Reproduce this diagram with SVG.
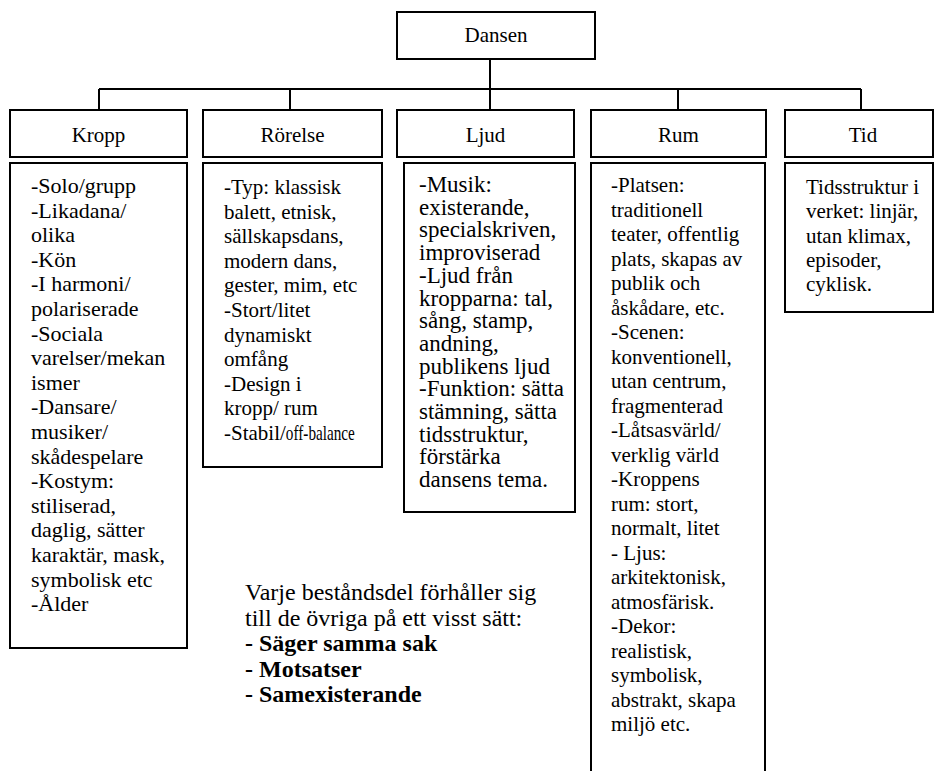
<svg xmlns="http://www.w3.org/2000/svg" width="934" height="771" viewBox="0 0 934 771">
<style>
.box{fill:#fff;stroke:#000;stroke-width:2}
.ln{stroke:#000;stroke-width:2;fill:none}
text{font-family:"Liberation Serif","Times New Roman",serif;font-size:21px;fill:#000}
.c{text-anchor:middle}
.k{font-size:22px}
.lj{font-size:23px}
.note{font-size:24px}
.b{font-weight:bold}
</style>
<rect width="934" height="771" fill="#fff"/>
<g id="connectors">
<path class="ln" d="M490 59V89M99 89H861M99 89V110M290 89V110M490 89V110M678 89V110M861 89V110"/>
</g>
<g id="dansen"><rect class="box" x="397" y="12" width="198" height="47"/><text class="c" x="496" y="42">Dansen</text></g>
<g id="kropp"><rect class="box" x="10" y="110" width="177" height="47"/><text class="c" x="98.5" y="142">Kropp</text></g>
<g id="rorelse"><rect class="box" x="203" y="110" width="179" height="47"/><text class="c" x="292.5" y="142">Rörelse</text></g>
<g id="ljud"><rect class="box" x="397" y="110" width="177" height="47"/><text class="c" x="485.5" y="142">Ljud</text></g>
<g id="rum"><rect class="box" x="591" y="110" width="175" height="47"/><text class="c" x="678.5" y="142">Rum</text></g>
<g id="tid"><rect class="box" x="785" y="110" width="148" height="47"/><text class="c" x="863" y="142">Tid</text></g>
<g id="kropp-detail"><rect class="box" x="10" y="163" width="177" height="485"/>
<text class="k" x="31" y="193"><tspan x="31">-Solo/grupp</tspan><tspan x="31" dy="24.6">-Likadana/</tspan><tspan x="31" dy="24.6">olika</tspan><tspan x="31" dy="24.6">-Kön</tspan><tspan x="31" dy="24.6">-I harmoni/</tspan><tspan x="31" dy="24.6">polariserade</tspan><tspan x="31" dy="24.6">-Sociala</tspan><tspan x="31" dy="24.6">varelser/mekan</tspan><tspan x="31" dy="24.6">ismer</tspan><tspan x="31" dy="24.6">-Dansare/</tspan><tspan x="31" dy="24.6">musiker/</tspan><tspan x="31" dy="24.6">skådespelare</tspan><tspan x="31" dy="24.6">-Kostym:</tspan><tspan x="31" dy="24.6">stiliserad,</tspan><tspan x="31" dy="24.6">daglig, sätter</tspan><tspan x="31" dy="24.6">karaktär, mask,</tspan><tspan x="31" dy="24.6">symbolisk etc</tspan><tspan x="31" dy="24.6">-Ålder</tspan></text></g>
<g id="rorelse-detail"><rect class="box" x="203" y="163" width="179" height="304"/>
<text x="224" y="194"><tspan x="224">-Typ: klassisk</tspan><tspan x="224" dy="24.6">balett, etnisk,</tspan><tspan x="224" dy="24.6">sällskapsdans,</tspan><tspan x="224" dy="24.6">modern dans,</tspan><tspan x="224" dy="24.6">gester, mim, etc</tspan><tspan x="224" dy="24.6">-Stort/litet</tspan><tspan x="224" dy="24.6">dynamiskt</tspan><tspan x="224" dy="24.6">omfång</tspan><tspan x="224" dy="24.6">-Design i</tspan><tspan x="224" dy="24.6">kropp/ rum</tspan><tspan x="224" dy="24.6">-Stabil/<tspan textLength="69" lengthAdjust="spacingAndGlyphs">off-balance</tspan></tspan></text></g>
<g id="ljud-detail"><rect class="box" x="404" y="163" width="171" height="349"/>
<text class="lj" x="419" y="192"><tspan x="419">-Musik:</tspan><tspan x="419" dy="22.7">existerande,</tspan><tspan x="419" dy="22.7">specialskriven,</tspan><tspan x="419" dy="22.7">improviserad</tspan><tspan x="419" dy="22.7">-Ljud från</tspan><tspan x="419" dy="22.7">kropparna: tal,</tspan><tspan x="419" dy="22.7">sång, stamp,</tspan><tspan x="419" dy="22.7">andning,</tspan><tspan x="419" dy="22.7">publikens ljud</tspan><tspan x="419" dy="22.7">-Funktion: sätta</tspan><tspan x="419" dy="22.7">stämning, sätta</tspan><tspan x="419" dy="22.7">tidsstruktur,</tspan><tspan x="419" dy="22.7">förstärka</tspan><tspan x="419" dy="22.7">dansens tema.</tspan></text></g>
<g id="rum-detail"><rect class="box" x="591" y="163" width="174" height="630"/>
<text x="611" y="192"><tspan x="611">-Platsen:</tspan><tspan x="611" dy="24.5">traditionell</tspan><tspan x="611" dy="24.5">teater, offentlig</tspan><tspan x="611" dy="24.5">plats, skapas av</tspan><tspan x="611" dy="24.5">publik och</tspan><tspan x="611" dy="24.5">åskådare, etc.</tspan><tspan x="611" dy="24.5">-Scenen:</tspan><tspan x="611" dy="24.5">konventionell,</tspan><tspan x="611" dy="24.5">utan centrum,</tspan><tspan x="611" dy="24.5">fragmenterad</tspan><tspan x="611" dy="24.5">-Låtsasvärld/</tspan><tspan x="611" dy="24.5">verklig värld</tspan><tspan x="611" dy="24.5">-Kroppens</tspan><tspan x="611" dy="24.5">rum: stort,</tspan><tspan x="611" dy="24.5">normalt, litet</tspan><tspan x="611" dy="24.5">- Ljus:</tspan><tspan x="611" dy="24.5">arkitektonisk,</tspan><tspan x="611" dy="24.5">atmosfärisk.</tspan><tspan x="611" dy="24.5">-Dekor:</tspan><tspan x="611" dy="24.5">realistisk,</tspan><tspan x="611" dy="24.5">symbolisk,</tspan><tspan x="611" dy="24.5">abstrakt, skapa</tspan><tspan x="611" dy="24.5">miljö etc.</tspan></text></g>
<g id="tid-detail"><rect class="box" x="785" y="163" width="148" height="149"/>
<text x="806" y="194"><tspan x="806">Tidsstruktur i</tspan><tspan x="806" dy="24.3">verket: linjär,</tspan><tspan x="806" dy="24.3">utan klimax,</tspan><tspan x="806" dy="24.3">episoder,</tspan><tspan x="806" dy="24.3">cyklisk.</tspan></text></g>
<g id="note">
<text class="note" x="245" y="600"><tspan x="245">Varje beståndsdel förhåller sig</tspan><tspan x="245" dy="25.5">till de övriga på ett visst sätt:</tspan><tspan class="b" x="245" dy="25.5">- Säger samma sak</tspan><tspan class="b" x="245" dy="25.5">- Motsatser</tspan><tspan class="b" x="245" dy="25.5">- Samexisterande</tspan></text>
</g>
</svg>
